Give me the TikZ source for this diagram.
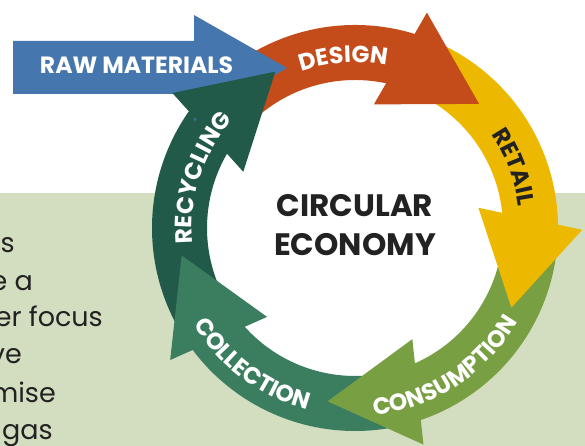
\documentclass[tikz,border=0pt]{standalone}
\usepackage{fontspec}
\setmainfont{Poppins}
\usetikzlibrary{decorations.text,calc}
\definecolor{cDesign}{HTML}{C44B1A}
\definecolor{cRetail}{HTML}{ECB800}
\definecolor{cCons}{HTML}{799F43}
\definecolor{cColl}{HTML}{3A7D5F}
\definecolor{cRecy}{HTML}{225A4A}
\definecolor{cRaw}{HTML}{4577AE}
\definecolor{cPanel}{HTML}{D3DDBF}
\definecolor{cInk}{HTML}{222222}
\newcommand{\labfont}{\fontsize{23.5}{23.5}\selectfont\bfseries}
\tikzset{
  bodytext/.style={anchor=base east, inner sep=0pt, text=cInk, font=\fontsize{27}{27}\selectfont},
  titletext/.style={anchor=base, inner sep=0pt, text=cInk, font=\fontsize{31}{31}\selectfont\bfseries},
}
\begin{document}
\begin{tikzpicture}[x=1pt,y=1pt]
\useasboundingbox (0,0) rectangle (585,446);
\fill[cPanel] (0,0) rectangle (585,253);
\coordinate (C) at (355,218);
\fill[white] (C) circle (150);
% bodies
\foreach \s/\e/\col in {139/70/cDesign, 67/-2/cRetail, -5/-74/cCons, -77/-146/cColl, 211/142/cRecy}{
  \fill[\col] ($(C)+(\s:203)$) arc[start angle=\s, end angle=\e, radius=203]
     -- ($(C)+(\e:148)$) arc[start angle=\e, end angle=\s, radius=148] -- cycle;
}
% raw materials arrow
\fill[cRaw] (13,405) -- (194,405) -- (194,431) -- (287,378) -- (194,325) -- (194,352) -- (13,352) -- cycle;
\node[inner sep=0pt, text=white, font=\fontsize{23.5}{23.5}\selectfont\bfseries] (raw) at (136.5,381) {RAW MATERIALS};
% heads
\foreach \b/\col in {75/cDesign, 3/cRetail, -69/cCons, -141/cColl, 147/cRecy}{
  \pgfmathsetmacro\m{\b-15}
  \pgfmathsetmacro\t{\b-30}
  \fill[\col] ($(C)+(\b:175.5)+(\m:53)$) -- ($(C)+(\t:175.5)$) -- ($(C)+(\b:175.5)-(\m:53)$) -- cycle;
}
% curved labels
\path[decorate, decoration={text along path, text={|\labfont|DESIGN}, text align=center, text color=white}]
  ($(C)+(134:165.5)$) arc[start angle=134, end angle=54, radius=165.5];
\path[decorate, decoration={text along path, text={|\labfont|RETAIL}, text align=center, text color=cInk}]
  ($(C)+(61:165)$) arc[start angle=61, end angle=-19, radius=165];
\path[decorate, decoration={text along path, text={|\labfont|CONSUMPTION}, text align=center, text color=white}]
  ($(C)+(-101:188)$) arc[start angle=-101, end angle=-13, radius=188];
\path[decorate, decoration={text along path, text={|\labfont|COLLECTION}, text align=center, text color=white}]
  ($(C)+(-171:188)$) arc[start angle=-171, end angle=-83, radius=188];
\path[decorate, decoration={text along path, text={|\labfont|RECYCLING}, text align=center, text color=white}]
  ($(C)+(205:163)$) arc[start angle=205, end angle=119, radius=163];
% title
\node[titletext] (t1) at (355,229) {CIRCULAR};
\node[titletext] (t2) at (355,190) {ECONOMY};
% body text fragments
\node[bodytext] (l1) at (15,193) {s};
\node[bodytext] (l2) at (33,155) {e a};
\node[bodytext] (l3) at (103,119) {er focus};
\node[bodytext] (l4) at (22,82) {ve};
\node[bodytext] (l5) at (56,43) {mise};
\node[bodytext] (l6) at (53,6) {gas};
\end{tikzpicture}
\end{document}
